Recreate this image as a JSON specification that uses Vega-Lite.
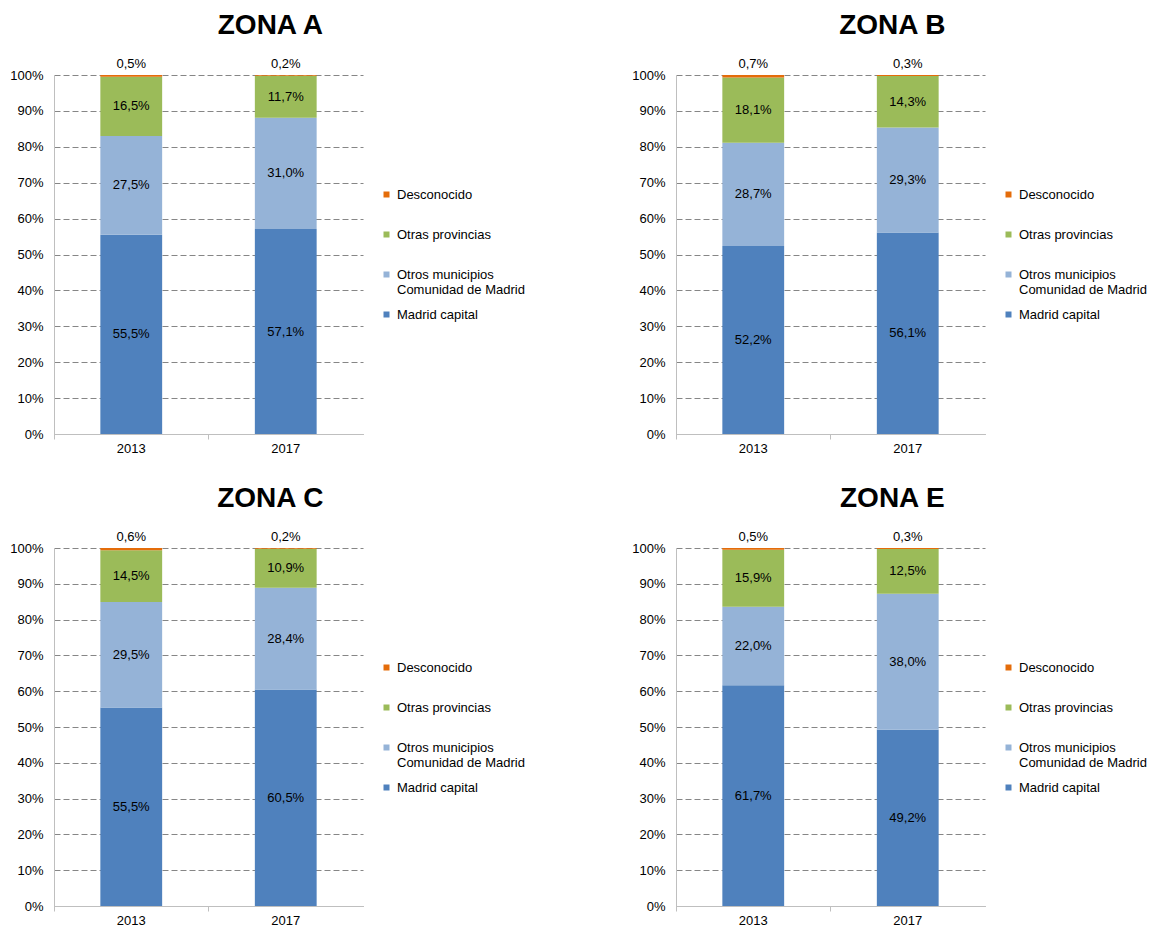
{
  "$schema": "https://vega.github.io/schema/vega-lite/v6.json",
  "padding": {"left": 9, "top": 12, "right": 2, "bottom": 5},
  "background": "white",
  "data": {"values": [
    {"zona": "A", "year": "2013", "cat": "Madrid capital", "ord": 1, "v": 0.555},
    {"zona": "A", "year": "2013", "cat": "Otros municipios Comunidad de Madrid", "ord": 2, "v": 0.275},
    {"zona": "A", "year": "2013", "cat": "Otras provincias", "ord": 3, "v": 0.165},
    {"zona": "A", "year": "2013", "cat": "Desconocido", "ord": 4, "v": 0.005},
    {"zona": "A", "year": "2017", "cat": "Madrid capital", "ord": 1, "v": 0.571},
    {"zona": "A", "year": "2017", "cat": "Otros municipios Comunidad de Madrid", "ord": 2, "v": 0.310},
    {"zona": "A", "year": "2017", "cat": "Otras provincias", "ord": 3, "v": 0.117},
    {"zona": "A", "year": "2017", "cat": "Desconocido", "ord": 4, "v": 0.002},
    {"zona": "B", "year": "2013", "cat": "Madrid capital", "ord": 1, "v": 0.522},
    {"zona": "B", "year": "2013", "cat": "Otros municipios Comunidad de Madrid", "ord": 2, "v": 0.287},
    {"zona": "B", "year": "2013", "cat": "Otras provincias", "ord": 3, "v": 0.181},
    {"zona": "B", "year": "2013", "cat": "Desconocido", "ord": 4, "v": 0.007},
    {"zona": "B", "year": "2017", "cat": "Madrid capital", "ord": 1, "v": 0.561},
    {"zona": "B", "year": "2017", "cat": "Otros municipios Comunidad de Madrid", "ord": 2, "v": 0.293},
    {"zona": "B", "year": "2017", "cat": "Otras provincias", "ord": 3, "v": 0.143},
    {"zona": "B", "year": "2017", "cat": "Desconocido", "ord": 4, "v": 0.003},
    {"zona": "C", "year": "2013", "cat": "Madrid capital", "ord": 1, "v": 0.555},
    {"zona": "C", "year": "2013", "cat": "Otros municipios Comunidad de Madrid", "ord": 2, "v": 0.295},
    {"zona": "C", "year": "2013", "cat": "Otras provincias", "ord": 3, "v": 0.145},
    {"zona": "C", "year": "2013", "cat": "Desconocido", "ord": 4, "v": 0.006},
    {"zona": "C", "year": "2017", "cat": "Madrid capital", "ord": 1, "v": 0.605},
    {"zona": "C", "year": "2017", "cat": "Otros municipios Comunidad de Madrid", "ord": 2, "v": 0.284},
    {"zona": "C", "year": "2017", "cat": "Otras provincias", "ord": 3, "v": 0.109},
    {"zona": "C", "year": "2017", "cat": "Desconocido", "ord": 4, "v": 0.002},
    {"zona": "E", "year": "2013", "cat": "Madrid capital", "ord": 1, "v": 0.617},
    {"zona": "E", "year": "2013", "cat": "Otros municipios Comunidad de Madrid", "ord": 2, "v": 0.220},
    {"zona": "E", "year": "2013", "cat": "Otras provincias", "ord": 3, "v": 0.159},
    {"zona": "E", "year": "2013", "cat": "Desconocido", "ord": 4, "v": 0.005},
    {"zona": "E", "year": "2017", "cat": "Madrid capital", "ord": 1, "v": 0.492},
    {"zona": "E", "year": "2017", "cat": "Otros municipios Comunidad de Madrid", "ord": 2, "v": 0.380},
    {"zona": "E", "year": "2017", "cat": "Otras provincias", "ord": 3, "v": 0.125},
    {"zona": "E", "year": "2017", "cat": "Desconocido", "ord": 4, "v": 0.003}
  ]},
  "config": {
    "font": "Liberation Sans",
    "view": {"stroke": null},
    "locale": {"number": {"decimal": ",", "thousands": ".", "grouping": [3], "currency": ["", " €"]}},
    "axis": {"labelFont": "Liberation Sans", "labelFontSize": 13, "labelColor": "#000000", "title": null},
    "axisY": {"tickCount": 10, "labelOverlap": false, "format": ".0%", "ticks": false, "labelPadding": 11, "domainColor": "#BFBFBF", "gridColor": "#868686", "gridDash": [6, 3], "gridWidth": 1},
    "legend": {"labelFont": "Liberation Sans"}
  },
  "resolve": {"scale": {"color": "independent"}, "legend": {"color": "independent"}},
  "bounds": "flush",
  "columns": 2,
  "spacing": {"row": 114, "column": 313},
  "concat": [
        {
          "title": {"text": "ZONA A", "frame": "bounds", "anchor": "middle", "fontSize": 28, "fontWeight": "bold", "font": "Liberation Sans", "color": "#000000", "offset": 18, "dx": 3},
          "width": 309, "height": 359,
          "transform": [{"filter": "datum.zona == 'A'"}],
          "resolve": {"axis": {"x": "independent"}},
          "layer": [
            {
              "mark": {"type": "bar", "width": {"band": 0.4}},
              "encoding": {
                "x": {"field": "year", "type": "nominal", "scale": {"paddingInner": 0, "paddingOuter": 0},
                      "axis": {"orient": "bottom", "bandPosition": 0, "labels": false, "ticks": true, "tickSize": 5, "tickColor": "#BFBFBF", "domainColor": "#BFBFBF", "grid": false, "labelAngle": 0}},
                "y": {"field": "v", "type": "quantitative", "stack": "normalize", "scale": {"domain": [0, 1], "nice": false},
                      "axis": {"tickCount": 10, "labelOverlap": false, "grid": true}},
                "color": {"field": "cat", "type": "nominal",
                          "scale": {"domain": ["Desconocido", "Otras provincias", "Otros municipios Comunidad de Madrid", "Madrid capital"], "range": ["#E46C0A", "#9BBB59", "#95B3D7", "#4F81BD"]},
                          "legend": {"orient": "none", "legendX": 326, "legendY": 113, "title": null, "symbolType": "square", "symbolSize": 36, "symbolStrokeWidth": 0, "labelFontSize": 13, "labelColor": "#000000", "labelOffset": 4, "rowPadding": 11, "gridAlign": "all", "padding": 0, "labelLimit": 250,
                                     "labelExpr": "datum.label == 'Otros municipios Comunidad de Madrid' ? ['Otros municipios', 'Comunidad de Madrid'] : datum.label"}},
                "order": {"field": "ord", "type": "quantitative"}
              }
            },
            {
              "mark": {"type": "text", "fontSize": 13, "color": "#000000"},
              "encoding": {
                "x": {"field": "year", "type": "nominal", "axis": {"orient": "bottom", "labelAngle": 0, "ticks": false, "domain": false, "labelPadding": 8}},
                "y": {"field": "v", "type": "quantitative", "stack": "normalize", "bandPosition": 0.5},
                "detail": {"field": "cat"},
                "order": {"field": "ord", "type": "quantitative"},
                "text": {"condition": {"test": "datum.cat == 'Desconocido'", "value": ""}, "field": "v", "type": "quantitative", "format": ".1%"}
              }
            },
            {
              "mark": {"type": "text", "fontSize": 13, "color": "#000000", "dy": -11},
              "encoding": {
                "x": {"field": "year", "type": "nominal", "axis": null},
                "y": {"field": "v", "type": "quantitative", "stack": "normalize"},
                "detail": {"field": "cat"},
                "order": {"field": "ord", "type": "quantitative"},
                "text": {"condition": {"test": "datum.cat != 'Desconocido'", "value": ""}, "field": "v", "type": "quantitative", "format": ".1%"}
              }
            }
          ]
        },
        {
          "title": {"text": "ZONA B", "frame": "bounds", "anchor": "middle", "fontSize": 28, "fontWeight": "bold", "font": "Liberation Sans", "color": "#000000", "offset": 18, "dx": 3},
          "width": 309, "height": 359,
          "transform": [{"filter": "datum.zona == 'B'"}],
          "resolve": {"axis": {"x": "independent"}},
          "layer": [
            {
              "mark": {"type": "bar", "width": {"band": 0.4}},
              "encoding": {
                "x": {"field": "year", "type": "nominal", "scale": {"paddingInner": 0, "paddingOuter": 0},
                      "axis": {"orient": "bottom", "bandPosition": 0, "labels": false, "ticks": true, "tickSize": 5, "tickColor": "#BFBFBF", "domainColor": "#BFBFBF", "grid": false, "labelAngle": 0}},
                "y": {"field": "v", "type": "quantitative", "stack": "normalize", "scale": {"domain": [0, 1], "nice": false},
                      "axis": {"tickCount": 10, "labelOverlap": false, "grid": true}},
                "color": {"field": "cat", "type": "nominal",
                          "scale": {"domain": ["Desconocido", "Otras provincias", "Otros municipios Comunidad de Madrid", "Madrid capital"], "range": ["#E46C0A", "#9BBB59", "#95B3D7", "#4F81BD"]},
                          "legend": {"orient": "none", "legendX": 326, "legendY": 113, "title": null, "symbolType": "square", "symbolSize": 36, "symbolStrokeWidth": 0, "labelFontSize": 13, "labelColor": "#000000", "labelOffset": 4, "rowPadding": 11, "gridAlign": "all", "padding": 0, "labelLimit": 250,
                                     "labelExpr": "datum.label == 'Otros municipios Comunidad de Madrid' ? ['Otros municipios', 'Comunidad de Madrid'] : datum.label"}},
                "order": {"field": "ord", "type": "quantitative"}
              }
            },
            {
              "mark": {"type": "text", "fontSize": 13, "color": "#000000"},
              "encoding": {
                "x": {"field": "year", "type": "nominal", "axis": {"orient": "bottom", "labelAngle": 0, "ticks": false, "domain": false, "labelPadding": 8}},
                "y": {"field": "v", "type": "quantitative", "stack": "normalize", "bandPosition": 0.5},
                "detail": {"field": "cat"},
                "order": {"field": "ord", "type": "quantitative"},
                "text": {"condition": {"test": "datum.cat == 'Desconocido'", "value": ""}, "field": "v", "type": "quantitative", "format": ".1%"}
              }
            },
            {
              "mark": {"type": "text", "fontSize": 13, "color": "#000000", "dy": -11},
              "encoding": {
                "x": {"field": "year", "type": "nominal", "axis": null},
                "y": {"field": "v", "type": "quantitative", "stack": "normalize"},
                "detail": {"field": "cat"},
                "order": {"field": "ord", "type": "quantitative"},
                "text": {"condition": {"test": "datum.cat != 'Desconocido'", "value": ""}, "field": "v", "type": "quantitative", "format": ".1%"}
              }
            }
          ]
        },
        {
          "title": {"text": "ZONA C", "frame": "bounds", "anchor": "middle", "fontSize": 28, "fontWeight": "bold", "font": "Liberation Sans", "color": "#000000", "offset": 18, "dx": 3},
          "width": 309, "height": 358,
          "transform": [{"filter": "datum.zona == 'C'"}],
          "resolve": {"axis": {"x": "independent"}},
          "layer": [
            {
              "mark": {"type": "bar", "width": {"band": 0.4}},
              "encoding": {
                "x": {"field": "year", "type": "nominal", "scale": {"paddingInner": 0, "paddingOuter": 0},
                      "axis": {"orient": "bottom", "bandPosition": 0, "labels": false, "ticks": true, "tickSize": 5, "tickColor": "#BFBFBF", "domainColor": "#BFBFBF", "grid": false, "labelAngle": 0}},
                "y": {"field": "v", "type": "quantitative", "stack": "normalize", "scale": {"domain": [0, 1], "nice": false},
                      "axis": {"tickCount": 10, "labelOverlap": false, "grid": true}},
                "color": {"field": "cat", "type": "nominal",
                          "scale": {"domain": ["Desconocido", "Otras provincias", "Otros municipios Comunidad de Madrid", "Madrid capital"], "range": ["#E46C0A", "#9BBB59", "#95B3D7", "#4F81BD"]},
                          "legend": {"orient": "none", "legendX": 326, "legendY": 113, "title": null, "symbolType": "square", "symbolSize": 36, "symbolStrokeWidth": 0, "labelFontSize": 13, "labelColor": "#000000", "labelOffset": 4, "rowPadding": 11, "gridAlign": "all", "padding": 0, "labelLimit": 250,
                                     "labelExpr": "datum.label == 'Otros municipios Comunidad de Madrid' ? ['Otros municipios', 'Comunidad de Madrid'] : datum.label"}},
                "order": {"field": "ord", "type": "quantitative"}
              }
            },
            {
              "mark": {"type": "text", "fontSize": 13, "color": "#000000"},
              "encoding": {
                "x": {"field": "year", "type": "nominal", "axis": {"orient": "bottom", "labelAngle": 0, "ticks": false, "domain": false, "labelPadding": 8}},
                "y": {"field": "v", "type": "quantitative", "stack": "normalize", "bandPosition": 0.5},
                "detail": {"field": "cat"},
                "order": {"field": "ord", "type": "quantitative"},
                "text": {"condition": {"test": "datum.cat == 'Desconocido'", "value": ""}, "field": "v", "type": "quantitative", "format": ".1%"}
              }
            },
            {
              "mark": {"type": "text", "fontSize": 13, "color": "#000000", "dy": -11},
              "encoding": {
                "x": {"field": "year", "type": "nominal", "axis": null},
                "y": {"field": "v", "type": "quantitative", "stack": "normalize"},
                "detail": {"field": "cat"},
                "order": {"field": "ord", "type": "quantitative"},
                "text": {"condition": {"test": "datum.cat != 'Desconocido'", "value": ""}, "field": "v", "type": "quantitative", "format": ".1%"}
              }
            }
          ]
        },
        {
          "title": {"text": "ZONA E", "frame": "bounds", "anchor": "middle", "fontSize": 28, "fontWeight": "bold", "font": "Liberation Sans", "color": "#000000", "offset": 18, "dx": 3},
          "width": 309, "height": 358,
          "transform": [{"filter": "datum.zona == 'E'"}],
          "resolve": {"axis": {"x": "independent"}},
          "layer": [
            {
              "mark": {"type": "bar", "width": {"band": 0.4}},
              "encoding": {
                "x": {"field": "year", "type": "nominal", "scale": {"paddingInner": 0, "paddingOuter": 0},
                      "axis": {"orient": "bottom", "bandPosition": 0, "labels": false, "ticks": true, "tickSize": 5, "tickColor": "#BFBFBF", "domainColor": "#BFBFBF", "grid": false, "labelAngle": 0}},
                "y": {"field": "v", "type": "quantitative", "stack": "normalize", "scale": {"domain": [0, 1], "nice": false},
                      "axis": {"tickCount": 10, "labelOverlap": false, "grid": true}},
                "color": {"field": "cat", "type": "nominal",
                          "scale": {"domain": ["Desconocido", "Otras provincias", "Otros municipios Comunidad de Madrid", "Madrid capital"], "range": ["#E46C0A", "#9BBB59", "#95B3D7", "#4F81BD"]},
                          "legend": {"orient": "none", "legendX": 326, "legendY": 113, "title": null, "symbolType": "square", "symbolSize": 36, "symbolStrokeWidth": 0, "labelFontSize": 13, "labelColor": "#000000", "labelOffset": 4, "rowPadding": 11, "gridAlign": "all", "padding": 0, "labelLimit": 250,
                                     "labelExpr": "datum.label == 'Otros municipios Comunidad de Madrid' ? ['Otros municipios', 'Comunidad de Madrid'] : datum.label"}},
                "order": {"field": "ord", "type": "quantitative"}
              }
            },
            {
              "mark": {"type": "text", "fontSize": 13, "color": "#000000"},
              "encoding": {
                "x": {"field": "year", "type": "nominal", "axis": {"orient": "bottom", "labelAngle": 0, "ticks": false, "domain": false, "labelPadding": 8}},
                "y": {"field": "v", "type": "quantitative", "stack": "normalize", "bandPosition": 0.5},
                "detail": {"field": "cat"},
                "order": {"field": "ord", "type": "quantitative"},
                "text": {"condition": {"test": "datum.cat == 'Desconocido'", "value": ""}, "field": "v", "type": "quantitative", "format": ".1%"}
              }
            },
            {
              "mark": {"type": "text", "fontSize": 13, "color": "#000000", "dy": -11},
              "encoding": {
                "x": {"field": "year", "type": "nominal", "axis": null},
                "y": {"field": "v", "type": "quantitative", "stack": "normalize"},
                "detail": {"field": "cat"},
                "order": {"field": "ord", "type": "quantitative"},
                "text": {"condition": {"test": "datum.cat != 'Desconocido'", "value": ""}, "field": "v", "type": "quantitative", "format": ".1%"}
              }
            }
          ]
        }
  ]
}
